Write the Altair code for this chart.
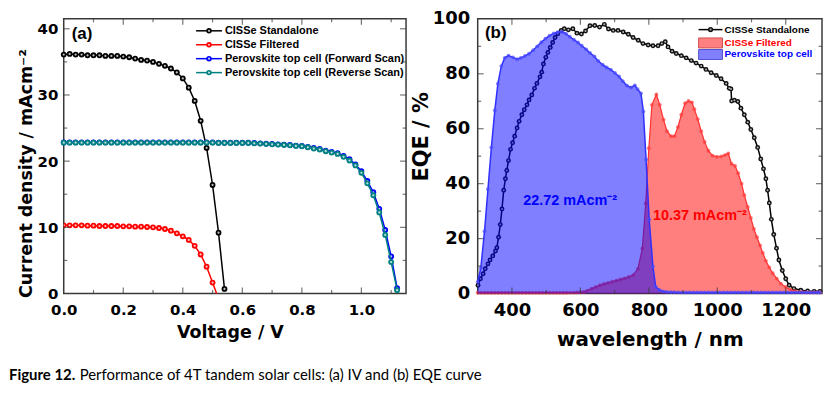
import altair as alt
import pandas as pd

# ---------------- Panel (a): J-V curves ----------------
V_CISSE = [0.00, 0.02, 0.04, 0.06, 0.08, 0.10, 0.12, 0.14, 0.16, 0.18, 0.20, 0.22, 0.24, 0.26,
           0.28, 0.30, 0.32, 0.34, 0.36, 0.38, 0.40, 0.42, 0.44, 0.46, 0.48, 0.50, 0.52, 0.54]
J_CISSE = [36.1, 36.2, 36.1, 36.1, 36.0, 36.0, 36.0, 35.9, 35.9, 35.9, 35.8, 35.7, 35.5, 35.3,
           35.2, 35.0, 34.7, 34.4, 34.0, 33.4, 32.5, 31.1, 29.1, 26.1, 22.0, 16.4, 9.2, 0.7]

V_FILT = [0.00, 0.02, 0.04, 0.06, 0.08, 0.10, 0.12, 0.14, 0.16, 0.18, 0.20, 0.22, 0.24, 0.26,
          0.28, 0.30, 0.32, 0.34, 0.36, 0.38, 0.40, 0.42, 0.44, 0.46, 0.48, 0.50, 0.52]
J_FILT = [10.3, 10.3, 10.3, 10.3, 10.25, 10.25, 10.2, 10.2, 10.2, 10.2, 10.15, 10.15, 10.1, 10.1,
          10.05, 10.0, 9.9, 9.75, 9.5, 9.1, 8.65, 8.1, 7.2, 5.9, 4.05, 1.65, -0.8]

V_PERO = [0.00, 0.02, 0.04, 0.06, 0.08, 0.10, 0.12, 0.14, 0.16, 0.18, 0.20, 0.22, 0.24, 0.26,
          0.28, 0.30, 0.32, 0.34, 0.36, 0.38, 0.40, 0.42, 0.44, 0.46, 0.48, 0.50, 0.52, 0.54,
          0.56, 0.58, 0.60, 0.62, 0.64, 0.66, 0.68, 0.70, 0.72, 0.74, 0.76, 0.78, 0.80, 0.82,
          0.84, 0.86, 0.88, 0.90, 0.92, 0.94, 0.96, 0.98, 1.00, 1.02, 1.04, 1.06, 1.08, 1.10, 1.12]
J_REV = [22.8, 22.8, 22.8, 22.8, 22.8, 22.8, 22.8, 22.8, 22.8, 22.8, 22.8, 22.8, 22.8, 22.8,
         22.8, 22.8, 22.8, 22.8, 22.8, 22.8, 22.8, 22.8, 22.8, 22.8, 22.8, 22.8, 22.75, 22.75,
         22.75, 22.75, 22.75, 22.75, 22.7, 22.65, 22.6, 22.55, 22.5, 22.45, 22.4, 22.3, 22.25, 22.1,
         21.9, 21.75, 21.5, 21.3, 21.1, 20.65, 20.1, 19.35, 18.25, 16.65, 14.85, 12.25, 8.85, 4.75, 0.5]
J_FWD = [22.85, 22.85, 22.85, 22.85, 22.85, 22.85, 22.85, 22.85, 22.85, 22.85, 22.85, 22.85, 22.85, 22.85,
         22.85, 22.85, 22.85, 22.85, 22.85, 22.85, 22.85, 22.85, 22.85, 22.85, 22.85, 22.85, 22.8, 22.8,
         22.8, 22.8, 22.8, 22.8, 22.75, 22.7, 22.65, 22.6, 22.55, 22.5, 22.45, 22.35, 22.3, 22.15,
         22.0, 21.85, 21.6, 21.4, 21.2, 20.8, 20.3, 19.5, 18.5, 17.0, 15.3, 12.8, 9.6, 5.6, 0.8]

# ---------------- Panel (b): EQE curves ----------------
WL_BLACK = [301, 308, 316, 322, 330, 336, 344, 352, 356, 361, 366, 371, 376, 381, 385, 390, 396, 402,
            408, 415, 421, 429, 436, 444, 450, 458, 466, 473, 482, 487, 492, 499, 505, 512, 519, 526,
            534, 544, 553, 565, 578, 590, 603, 615, 628, 642, 656, 670, 682, 696, 710, 725, 740, 754,
            769, 783, 798, 812, 827, 838, 848, 856, 868, 880, 895, 909, 924, 938, 953, 967, 982, 997,
            1011, 1026, 1035, 1040, 1042, 1050, 1060, 1069, 1079, 1089, 1098, 1108, 1118, 1127, 1135,
            1142, 1147, 1152, 1158, 1165, 1173, 1180, 1190, 1200, 1210, 1224, 1244, 1264, 1283, 1300]
EQE_BLACK = [3.0, 5.4, 7.2, 9.0, 10.8, 12.2, 13.7, 15.5, 16.7, 20.5, 25.1, 30.8, 37.6, 41.8, 44.8, 48.4,
             52.5, 54.9, 57.3, 60.3, 62.7, 65.1, 66.9, 68.7, 70.5, 72.3, 74.7, 76.5, 78.9, 80.6, 83.6,
             86.0, 87.8, 89.6, 91.4, 93.2, 94.6, 95.8, 96.4, 96.0, 96.4, 94.8, 94.5, 95.6, 97.5, 97.6,
             97.0, 98.0, 96.3, 95.8, 95.8, 95.2, 94.4, 93.2, 92.2, 91.0, 90.5, 90.2, 90.2, 91.0, 91.7,
             89.8, 88.2, 87.4, 86.6, 85.8, 84.8, 83.9, 82.8, 81.6, 80.4, 79.4, 78.2, 76.5, 74.7, 74.5,
             70.1, 70.4, 69.9, 67.5, 65.1, 62.4, 59.7, 56.7, 53.2, 49.0, 45.4, 41.8, 37.6, 33.0, 27.0,
             21.5, 16.5, 12.2, 8.4, 5.4, 3.0, 1.8, 1.2, 0.9, 0.8, 0.8]

WL_FILT = [300, 310, 320, 330, 340, 350, 360, 370, 380, 390, 400, 410, 420, 430, 440, 450, 460, 470,
           480, 490, 500, 510, 520, 530, 540, 550, 560, 570, 580, 590, 600,
           610, 620, 633, 645, 657, 669, 681, 693, 705, 717, 729, 741, 754, 768, 781, 791, 800, 809,
           822, 832, 843, 853, 865, 875, 885, 895, 906, 916, 926, 933, 943, 953, 963, 974, 986, 999,
           1011, 1022, 1032, 1042, 1052, 1061, 1071, 1079, 1089, 1098, 1107, 1116, 1125, 1133, 1142,
           1152, 1162, 1174, 1186, 1200, 1214, 1229, 1240, 1250, 1260, 1270, 1280, 1290, 1300]
EQE_FILT = [0.3, 0.3, 0.3, 0.3, 0.3, 0.3, 0.3, 0.3, 0.3, 0.3, 0.3, 0.3, 0.3, 0.3, 0.3, 0.3, 0.3, 0.3,
            0.3, 0.3, 0.3, 0.3, 0.3, 0.3, 0.3, 0.3, 0.3, 0.35, 0.35, 0.4, 0.45,
            0.6, 1.0, 1.8, 2.4, 3.0, 3.5, 3.9, 4.3, 4.7, 5.1, 5.5, 6.0, 6.7, 9.0, 16.4, 32.8, 52.9, 68.7,
            72.5, 68.7, 63.3, 59.1, 57.3, 57.3, 60.6, 65.1, 69.3, 70.1, 69.6, 67.1, 63.5, 59.1, 55.2,
            52.0, 50.2, 49.8, 49.9, 50.4, 51.0, 47.2, 46.5, 43.8, 40.0, 35.8, 31.5, 27.5, 23.5, 20.5,
            17.5, 14.8, 11.9, 9.5, 7.4, 5.4, 3.6, 2.4, 1.4, 0.9, 0.6, 0.5, 0.4, 0.4, 0.4, 0.4, 0.4]

WL_PERO = [300, 309, 320, 330, 340, 350, 359, 369, 379, 390, 403, 415, 426, 438, 450, 462, 474, 486,
           498, 510, 522, 534, 546, 558, 569, 581, 593, 604, 617, 628, 641, 652, 665, 677, 689, 701,
           713, 724, 736, 748, 759, 767, 777, 784, 792, 801, 812, 820, 831, 842, 853,
           864, 875, 886, 897, 908, 919, 930, 941, 952, 963, 974, 985, 996, 1007, 1018, 1029, 1040,
           1051, 1062, 1073, 1084, 1095, 1106, 1117, 1128, 1139, 1150, 1161, 1172, 1183, 1194, 1205,
           1216, 1227, 1238, 1249, 1260, 1271, 1282, 1293, 1300]
EQE_PERO = [4.2, 9.3, 22.7, 38.0, 53.2, 66.7, 76.4, 82.8, 85.8, 86.6, 86.0, 85.3, 85.8, 86.5, 87.3,
            88.6, 90.0, 91.5, 92.8, 93.9, 94.7, 95.2, 95.3, 94.6, 93.5, 92.4, 91.4, 90.2, 88.9, 87.6,
            86.3, 84.7, 83.3, 82.3, 81.5, 80.3, 79.0, 77.3, 75.7, 75.0, 75.8, 74.4, 72.9, 66.3, 48.8,
            27.0, 9.8, 2.5, 1.3, 0.8, 0.6,
            0.5, 0.5, 0.4, 0.4, 0.4, 0.4, 0.4, 0.4, 0.4, 0.4, 0.4, 0.4, 0.4, 0.4, 0.4, 0.4, 0.4, 0.4,
            0.4, 0.4, 0.4, 0.4, 0.4, 0.4, 0.4, 0.4, 0.4, 0.4, 0.4, 0.4, 0.4, 0.4, 0.4, 0.4, 0.4, 0.4,
            0.4, 0.4, 0.4, 0.4, 0.4]

# ---------------- texts ----------------
LEGEND_A = ["CISSe Standalone", "CISSe Filtered",
            "Perovskite top cell (Forward Scan)", "Perovskite top cell (Reverse Scan)"]
LEGEND_B = ["CISSe Standalone", "CISSe Filtered", "Perovskite top cell"]
ANNOT_TEXT = ["22.72 mAcm\u207b\u00b2", "10.37 mAcm\u207b\u00b2"]
ANNOT_WL = [433, 812]
ANNOT_EQE = [33.5, 28.2]
A_XTICKS = [0.0, 0.2, 0.4, 0.6, 0.8, 1.0]
A_YTICKS = [0, 10, 20, 30, 40]
B_XTICKS = [400, 600, 800, 1000, 1200]
B_YTICKS = [0, 20, 40, 60, 80, 100]
CAPTION_BOLD = "Figure 12."
CAPTION_REST = "Performance of 4T tandem solar cells: (a) IV and (b) EQE curve"

BLACK, RED, BLUE, TEAL = "#000000", "#ff0000", "#0000ff", "#008080"
FRAME = "#3a3a3a"
AX_FONT = "DejaVu Sans"
TXT_FONT = "Liberation Sans"

WA, HA = 344, 276
WB, HB = 346, 276

dummy = pd.DataFrame({"d": [0]})

axis_common = dict(ticks=False, domain=False, grid=False, labelFont=AX_FONT, labelFontWeight="bold",
                   labelColor="black", titleFont=AX_FONT, titleFontWeight="bold", titleColor="black")

# ---------------- panel (a) scales / axes ----------------
xa = alt.Scale(domain=[0, 1.15], nice=False, zero=False)
ya = alt.Scale(domain=[0, 41.5], nice=False)
xa_axis = alt.Axis(values=A_XTICKS, format=".1f", title="Voltage / V", labelFontSize=15,
                   titleFontSize=17.5, labelPadding=9, titlePadding=6, titleX=167, labelFlush=False,
                   **axis_common)
ya_axis = alt.Axis(values=A_YTICKS, title="Current density / mAcm\u207b\u00b2", labelFontSize=15,
                   titleFontSize=17.5, labelPadding=6, titlePadding=2, titleY=155, **axis_common)

# ---------------- panel (b) scales / axes ----------------
xb = alt.Scale(domain=[300, 1306], nice=False, zero=False)
yb = alt.Scale(domain=[0, 100], nice=False)
xb_axis = alt.Axis(values=B_XTICKS, format="d", title="wavelength / nm", labelFontSize=18,
                   titleFontSize=20, labelPadding=8, titlePadding=10, labelFlush=False, **axis_common)
yb_axis = alt.Axis(values=B_YTICKS, format="d", title="EQE / %", labelFontSize=18, titleFontSize=21,
                   labelPadding=8, titlePadding=1, titleY=118, **axis_common)


def ticks_layers(xmaj, xmin, ymaj, ymin, W, H, xs, ys, xax, yax):
    out = []
    for vals, L in ((xmaj, 6), (xmin, 3.5)):
        d = pd.DataFrame({"t": vals})
        for yc in (H - L / 2, L / 2):
            out.append(alt.Chart(d).mark_tick(orient="vertical", size=L, thickness=1.2, color=FRAME)
                       .encode(x=alt.X("t:Q", scale=xs, axis=xax), y=alt.value(yc)))
    for vals, L in ((ymaj, 6), (ymin, 3.5)):
        d = pd.DataFrame({"t": vals})
        for xc in (L / 2, W - L / 2):
            out.append(alt.Chart(d).mark_tick(orient="horizontal", size=L, thickness=1.2, color=FRAME)
                       .encode(y=alt.Y("t:Q", scale=ys, axis=yax), x=alt.value(xc)))
    return out


def text_at(x, y, label, color, size, font=TXT_FONT, weight="bold"):
    return alt.Chart(dummy).mark_text(text=label, align="left", baseline="middle", font=font,
                                      fontSize=size, fontWeight=weight, color=color).encode(
        x=alt.value(x), y=alt.value(y))


# ---------------- build panel (a) ----------------
def iv_layers(V, J, color, clip=False):
    df = pd.DataFrame({"V": V, "J": J})
    base = alt.Chart(df).encode(x=alt.X("V:Q", scale=xa, axis=xa_axis),
                                y=alt.Y("J:Q", scale=ya, axis=ya_axis))
    return [base.mark_line(color=color, strokeWidth=1.5, clip=clip),
            base.mark_circle(color=color, size=34, opacity=1, clip=clip),
            base.mark_circle(color="white", size=5, opacity=0.75, clip=clip)]


a_layers = []
a_layers += iv_layers(V_CISSE, J_CISSE, BLACK)
a_layers += iv_layers(V_FILT, J_FILT, RED, clip=True)
a_layers += iv_layers(V_PERO, J_FWD, BLUE)
a_layers += iv_layers(V_PERO, J_REV, TEAL)
a_layers += ticks_layers([0.2, 0.4, 0.6, 0.8, 1.0], [0.1, 0.3, 0.5, 0.7, 0.9, 1.1],
                         [10, 20, 30, 40], [5, 15, 25, 35], WA, HA, xa, ya, xa_axis, ya_axis)
for i, (lab, col) in enumerate(zip(LEGEND_A, [BLACK, RED, BLUE, TEAL])):
    yy = 12 + 14 * i
    a_layers.append(alt.Chart(dummy).mark_rule(color=col, strokeWidth=1.5).encode(
        x=alt.value(133), x2=alt.value(159), y=alt.value(yy)))
    a_layers.append(alt.Chart(dummy).mark_circle(color=col, size=30, opacity=1).encode(
        x=alt.value(146), y=alt.value(yy)))
    a_layers.append(alt.Chart(dummy).mark_circle(color="white", size=5, opacity=0.75).encode(
        x=alt.value(146), y=alt.value(yy)))
    a_layers.append(text_at(162, yy, lab, "black", 11))
a_layers.append(text_at(8, 15, "(a)", "black", 17))

panel_a = alt.layer(*a_layers).properties(
    width=WA, height=HA, view=alt.ViewBackground(stroke=FRAME, strokeWidth=1.5))

# ---------------- build panel (b) ----------------
df_black = pd.DataFrame({"wl": WL_BLACK, "eqe": EQE_BLACK})
df_filt = pd.DataFrame({"wl": WL_FILT, "eqe": EQE_FILT})
df_pero = pd.DataFrame({"wl": WL_PERO, "eqe": EQE_PERO})
df_annot = pd.DataFrame({"wl": ANNOT_WL, "eqe": ANNOT_EQE, "txt": ANNOT_TEXT})

bx = alt.X("wl:Q", scale=xb, axis=xb_axis)
by = alt.Y("eqe:Q", scale=yb, axis=yb_axis)

b_layers = [
    alt.Chart(df_black).mark_line(color=BLACK, strokeWidth=1.5).encode(x=bx, y=by),
    alt.Chart(df_black).mark_circle(color="#111111", size=24, opacity=1).encode(x=bx, y=by),
    alt.Chart(df_black).mark_circle(color="white", size=4, opacity=0.7).encode(x=bx, y=by),
    alt.Chart(df_filt).mark_area(color=RED, opacity=0.5).encode(x=bx, y=by),
    alt.Chart(df_filt).mark_line(color="#ff3030", strokeWidth=1.2).encode(x=bx, y=by),
    alt.Chart(df_filt).mark_circle(color="#ff3c3c", size=15, opacity=0.7).encode(x=bx, y=by),
    alt.Chart(df_pero).mark_area(color=BLUE, opacity=0.5).encode(x=bx, y=by),
    alt.Chart(df_pero).mark_line(color="#3030ff", strokeWidth=1.5).encode(x=bx, y=by),
    alt.Chart(df_pero).mark_circle(color="#4a4aff", size=15, opacity=0.7).encode(x=bx, y=by),
    alt.Chart(df_annot).mark_text(align="left", baseline="middle", font=TXT_FONT, fontSize=14.5,
                                  fontWeight="bold").encode(
        x=bx, y=by, text="txt:N",
        color=alt.Color("txt:N", scale=alt.Scale(domain=ANNOT_TEXT, range=[BLUE, RED]), legend=None)),
]
b_layers += ticks_layers([400, 600, 800, 1000, 1200], [500, 700, 900, 1100],
                         [20, 40, 60, 80], [10, 30, 50, 70, 90], WB, HB, xb, yb, xb_axis, yb_axis)
# legend (b)
b_layers.append(alt.Chart(dummy).mark_rule(color=BLACK, strokeWidth=1.5).encode(
    x=alt.value(222), x2=alt.value(246), y=alt.value(10.8)))
b_layers.append(alt.Chart(dummy).mark_circle(color="#111111", size=28, opacity=1).encode(
    x=alt.value(234), y=alt.value(10.8)))
b_layers.append(alt.Chart(dummy).mark_circle(color="white", size=4, opacity=0.7).encode(
    x=alt.value(234), y=alt.value(10.8)))
b_layers.append(alt.Chart(dummy).mark_rect(fill="#ff8080", stroke="#d05050", strokeWidth=1).encode(
    x=alt.value(222), x2=alt.value(246), y=alt.value(19.2), y2=alt.value(29.2)))
b_layers.append(alt.Chart(dummy).mark_rect(fill="#8080ff", stroke="#5050d0", strokeWidth=1).encode(
    x=alt.value(222), x2=alt.value(246), y=alt.value(30.8), y2=alt.value(40.8)))
for lab, col, yy in zip(LEGEND_B, [BLACK, RED, BLUE], [10.8, 24.2, 35.8]):
    b_layers.append(text_at(248, yy, lab, col, 10))
b_layers.append(text_at(7.3, 14, "(b)", "black", 17))

panel_b = alt.layer(*b_layers).properties(
    width=WB, height=HB, view=alt.ViewBackground(stroke=FRAME, strokeWidth=1.5))

# ---------------- caption ----------------
caption = alt.layer(
    text_at(-55, 5, CAPTION_BOLD, "black", 15, font="Lato", weight="bold"),
    text_at(16, 5, CAPTION_REST, "black", 15, font="Lato", weight="normal"),
).properties(width=700, height=10, view=alt.ViewBackground(stroke="transparent"))

top = alt.hconcat(panel_a, panel_b, spacing=2)
chart = alt.vconcat(top, caption, spacing=17).properties(
    padding={"left": 0, "top": 0, "right": 0, "bottom": 0}
).configure(background="white").configure_view(stroke="transparent")

chart.save("out.html", embed_options={"renderer": "svg", "actions": False})
